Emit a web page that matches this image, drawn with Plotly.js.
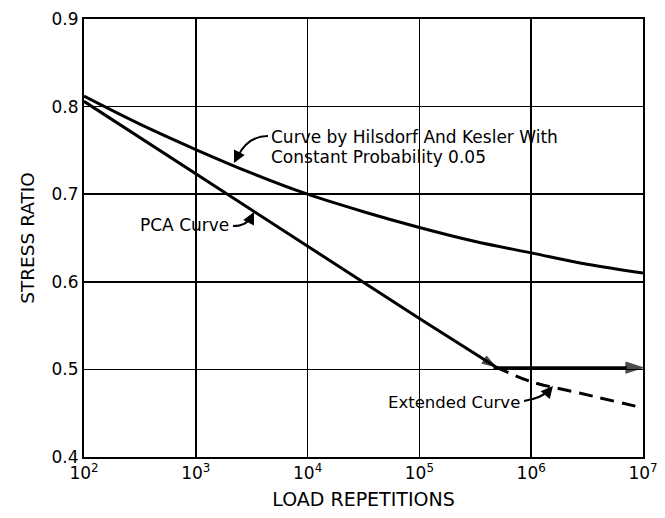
<!DOCTYPE html>
<html>
<head>
<meta charset="utf-8">
<script src="https://cdn.plot.ly/plotly-3.0.1.min.js"></script>
<style>html,body{margin:0;padding:0;background:#fff;}#chart{width:665px;height:518px;}</style>
</head>
<body>
<div id="chart"></div>
<script>
// Hilsdorf & Kesler curve (constant probability 0.05)
var hkN  = [100, 316, 1000, 3162, 10000, 31623, 100000, 316228, 1000000, 3162278, 10000000];
var hkSR = [0.812, 0.780, 0.751, 0.724, 0.700, 0.680, 0.662, 0.646, 0.633, 0.620, 0.610];
// PCA curve
var pcaN  = [100, 1000, 10000, 100000, 480000];
var pcaSR = [0.806, 0.723, 0.641, 0.558, 0.503];
// Extended curve (dashed)
var extN  = [480000, 1000000, 2700000, 10000000];
var extSR = [0.503, 0.486, 0.473, 0.456];
// Horizontal arrow at 0.5
var flatN  = [460000, 10000000];
var flatSR = [0.502, 0.502];
// Ticks
var xTickVals = [100, 1000, 10000, 100000, 1000000, 10000000];
var xTickText = ["10<sup>2</sup>", "10<sup>3</sup>", "10<sup>4</sup>", "10<sup>5</sup>", "10<sup>6</sup>", "10<sup>7</sup>"];
var yTickVals = [0.4, 0.5, 0.6, 0.7, 0.8, 0.9];
var yTickText = ["0.4", "0.5", "0.6", "0.7", "0.8", "0.9"];

var font = "DejaVu Sans, sans-serif";

var traces = [
  {x: hkN, y: hkSR, mode: "lines", line: {color: "#000", width: 3, shape: "spline"}, hoverinfo: "skip"},
  {x: pcaN, y: pcaSR, mode: "lines+markers", line: {color: "#000", width: 3},
   marker: {symbol: "arrow", angleref: "previous", size: [0, 0, 0, 0, 14], color: "#000", line: {color: "#000", width: 1}}, hoverinfo: "skip"},
  {x: extN, y: extSR, mode: "lines", line: {color: "#000", width: 3, dash: "14px,8px", shape: "spline"}, hoverinfo: "skip"},
  {x: flatN, y: flatSR, mode: "lines+markers", line: {color: "#000", width: 3},
   marker: {symbol: "arrow", angleref: "previous", size: [0, 18], color: "#000", line: {color: "#000", width: 1}}, hoverinfo: "skip"}
];

// paper-coordinate helpers for decorative leader lines
function px(X){ return (X - 84) / 559; }
function py(Y){ return (457 - Y) / 438; }
function P(X, Y){ return px(X).toFixed(4) + "," + py(Y).toFixed(4); }

var shapes = [
  {type: "path", xref: "paper", yref: "paper", path: "M" + P(268,136) + " Q" + P(248,136) + " " + P(238,156), line: {color: "#000", width: 2}},
  {type: "path", xref: "paper", yref: "paper", path: "M" + P(233,226) + " Q" + P(247,226) + " " + P(251,216), line: {color: "#000", width: 2}},
  {type: "path", xref: "paper", yref: "paper", path: "M" + P(524,401) + " Q" + P(542,398) + " " + P(549,390), line: {color: "#000", width: 2}}
];

var annotations = [
  {xref: "paper", yref: "paper", x: px(269), y: py(137), xanchor: "left", yanchor: "middle", showarrow: false,
   text: "Curve by Hilsdorf And Kesler With", font: {family: font, size: 17, color: "#000"}},
  {xref: "paper", yref: "paper", x: px(269), y: py(157), xanchor: "left", yanchor: "middle", showarrow: false,
   text: "Constant Probability 0.05", font: {family: font, size: 17, color: "#000"}},
  {xref: "paper", yref: "paper", x: px(231), y: py(225), xanchor: "right", yanchor: "middle", showarrow: false,
   text: "PCA Curve", font: {family: font, size: 17, color: "#000"}},
  {xref: "paper", yref: "paper", x: px(522), y: py(402), xanchor: "right", yanchor: "middle", showarrow: false,
   text: "Extended Curve", font: {family: font, size: 16.5, color: "#000"}},
  // arrow heads
  {xref: "paper", yref: "paper", x: px(234), y: py(163), ax: 5, ay: -10, text: "", showarrow: true, arrowhead: 2, arrowsize: 1.2, arrowwidth: 2, arrowcolor: "#000"},
  {xref: "paper", yref: "paper", x: px(254), y: py(212), ax: -4, ay: 8, text: "", showarrow: true, arrowhead: 2, arrowsize: 1.2, arrowwidth: 2, arrowcolor: "#000"},
  {xref: "paper", yref: "paper", x: px(553), y: py(386), ax: -6, ay: 7, text: "", showarrow: true, arrowhead: 2, arrowsize: 1.2, arrowwidth: 2, arrowcolor: "#000"}
];

var layout = {
  width: 665, height: 518,
  margin: {l: 84, r: 22, t: 19, b: 61},
  paper_bgcolor: "#fff", plot_bgcolor: "#fff",
  showlegend: false,
  font: {family: font, color: "#000"},
  xaxis: {
    type: "log", range: [2, 7],
    tickvals: xTickVals, ticktext: xTickText,
    tickfont: {family: font, size: 17, color: "#000"},
    showgrid: true, gridcolor: "#000", gridwidth: 1.5,
    showline: true, linecolor: "#000", linewidth: 2, mirror: true,
    ticks: "", zeroline: false,
    title: {text: "LOAD REPETITIONS", font: {family: font, size: 19, color: "#000"}, standoff: 10}
  },
  yaxis: {
    range: [0.4, 0.9],
    tickvals: yTickVals, ticktext: yTickText,
    tickfont: {family: font, size: 17, color: "#000"},
    showgrid: true, gridcolor: "#000", gridwidth: 1.5,
    showline: true, linecolor: "#000", linewidth: 2, mirror: true,
    ticks: "", zeroline: false,
    title: {text: "STRESS RATIO", font: {family: font, size: 18.5, color: "#000"}, standoff: 12}
  },
  shapes: shapes,
  annotations: annotations
};

Plotly.newPlot("chart", traces, layout, {displayModeBar: false, staticPlot: true});
</script>
</body>
</html>
